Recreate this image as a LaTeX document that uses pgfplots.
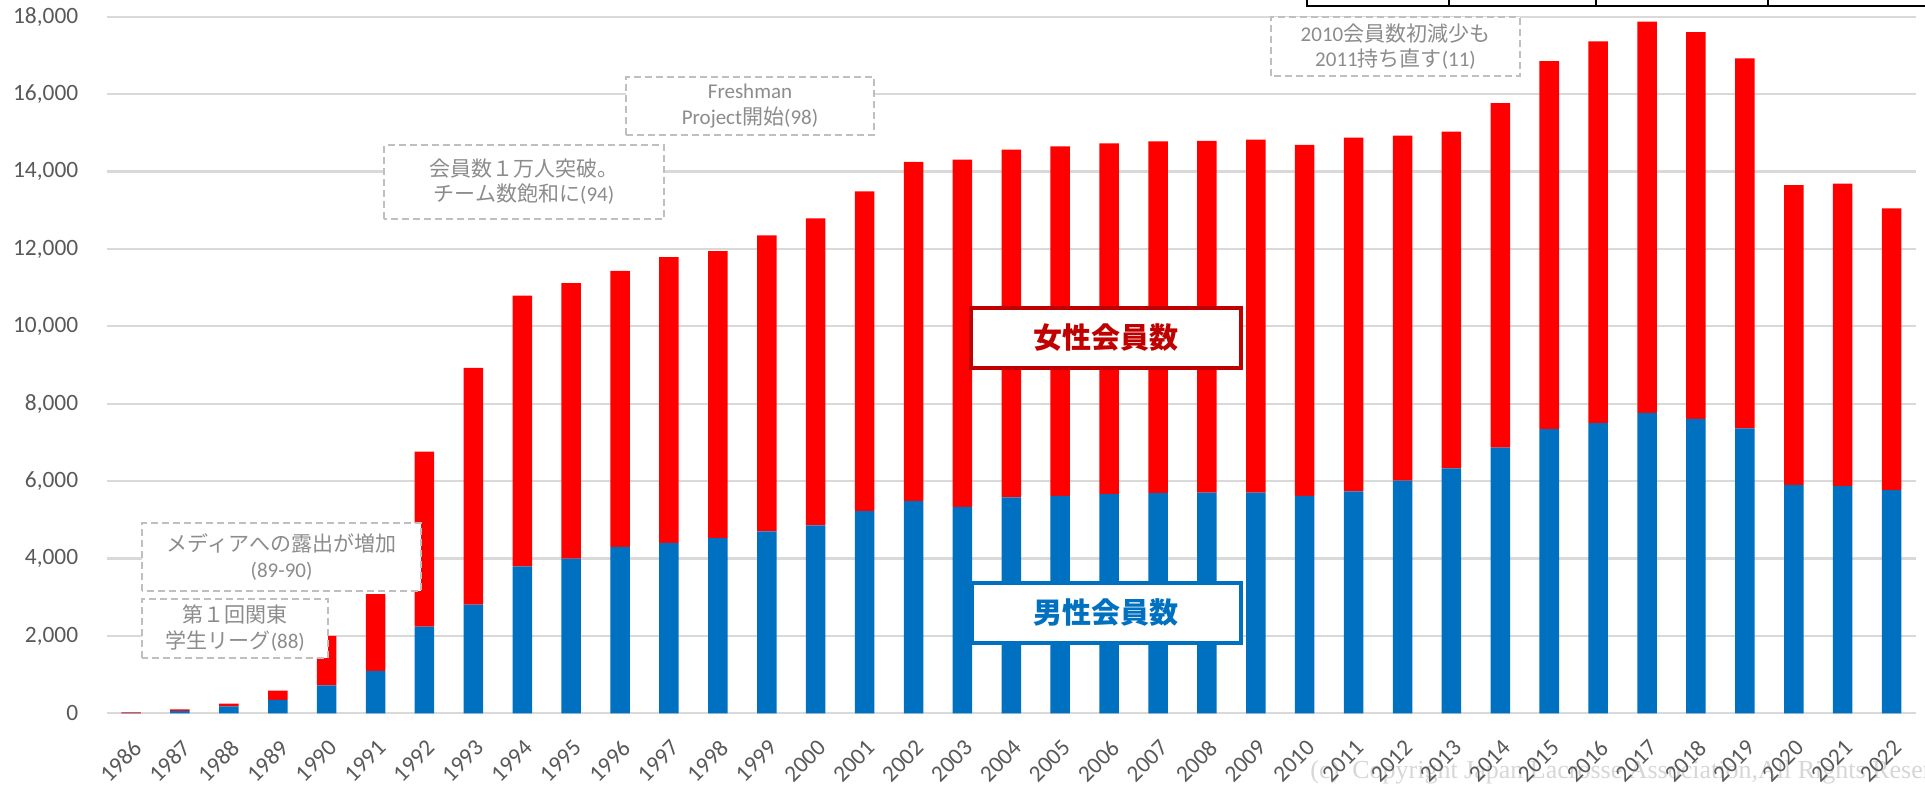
\documentclass[border=0pt]{standalone}
\usepackage{fontspec}
\setmainfont{Carlito}
\newfontfamily\jp{Noto Sans CJK JP}
\newfontfamily\cpfont{Liberation Serif}
\usepackage{pgfplots}
\usepackage{pgfplotstable}
\pgfplotsset{compat=1.18}
\definecolor{mblue}{HTML}{0070C0}
\definecolor{fred}{HTML}{FF0000}
\definecolor{dred}{HTML}{C00000}
\definecolor{gridc}{HTML}{D9D9D9}
\definecolor{tickc}{HTML}{595959}
\definecolor{annc}{HTML}{8C8C8C}
\definecolor{boxc}{HTML}{BFBFBF}

\pgfplotstableread{
year male female
1986 5 20
1987 60 45
1988 180 70
1989 345 240
1990 725 1275
1991 1095 1985
1992 2240 4525
1993 2810 6115
1994 3800 6995
1995 4000 7115
1996 4300 7135
1997 4405 7380
1998 4525 7415
1999 4700 7650
2000 4855 7935
2001 5225 8260
2002 5485 8765
2003 5335 8970
2004 5580 8985
2005 5620 9030
2006 5665 9060
2007 5690 9090
2008 5705 9085
2009 5705 9120
2010 5620 9065
2011 5735 9140
2012 6010 8915
2013 6330 8700
2014 6865 8905
2015 7345 9505
2016 7500 9865
2017 7760 10110
2018 7605 9995
2019 7365 9560
2020 5905 7740
2021 5870 7820
2022 5770 7275
}\data

\begin{document}
\begin{tikzpicture}
% copyright watermark (behind)
\node[anchor=west, inner sep=0pt, text=black!16, font=\cpfont\fontsize{13}{15}\selectfont] at (655pt,6pt) {(c)\ \ Copyright Japan Lacrosse Association,All Rights Reserved.};
\begin{axis}[
  at={(53.3pt,35.35pt)}, anchor=south west,
  scale only axis, width=904.7pt, height=348.3pt,
  xmin=1985.5, xmax=2022.5, ymin=0, ymax=18000,
  ybar stacked, bar width=9.75pt,
  axis line style={draw=none},
  major tick length=0pt,
  ymajorgrids, grid style={gridc, line width=1.1pt},
  xtick={1986,...,2022},
  xticklabel={\pgfmathprintnumber[fixed,precision=0,1000 sep={}]{\tick}},
  ytick={0,2000,...,18000},
  scaled y ticks=false,
  /pgf/number format/1000 sep={,},
  /pgf/number format/assume math mode=true,
  xticklabel style={font=\fontsize{11.7}{14}\selectfont, text=tickc, yshift=-12.5pt, xshift=0.3pt, rotate=45, anchor=north east, inner sep=0pt},
  yticklabel style={font=\fontsize{11.7}{14}\selectfont, text=tickc, anchor=east, inner sep=0pt, xshift=-14pt},
  clip=false,
]
\addplot[fill=mblue, draw=none] table[x=year, y=male]{\data};
\addplot[fill=fred, draw=none] table[x=year, y=female]{\data};
\end{axis}
% annotation boxes
\tikzset{ann/.style={boxc, line width=1pt, dash pattern=on 3.5pt off 2pt, fill=white},
         anntxt/.style={text=annc, align=center, font=\fontsize{10.5}{12.8}\selectfont, inner sep=0pt}}
\draw[ann] (71.15pt,63.15pt) rectangle (164.15pt,92.65pt);
\node[anntxt] at (117.65pt,77.9pt) {{\jp 第１回関東}\\{\jp 学生リーグ}(88)};
\draw[ann] (71.15pt,96.5pt) rectangle (210.5pt,130.65pt);
\node[anntxt] at (140.8pt,113.6pt) {{\jp メディアへの露出が増加}\\(89-90)};
\draw[ann] (192pt,282.75pt) rectangle (332pt,319.5pt);
\node[anntxt] at (262pt,301.1pt) {{\jp 会員数１万人突破。}\\{\jp チーム数飽和に}(94)};
\draw[ann] (313pt,324.5pt) rectangle (437pt,353.5pt);
\node[anntxt] at (375pt,339pt) {Freshman\\Project{\jp 開始}(98)};
\draw[ann] (635.5pt,354pt) rectangle (760pt,383.35pt);
\node[anntxt] at (697.75pt,368.7pt) {2010{\jp 会員数初減少も}\\2011{\jp 持ち直す}(11)};
% legend-like labels
\draw[dred, line width=1.8pt, fill=white] (485.5pt,208pt) rectangle (620.35pt,238pt);
\node[text=dred, font=\jp\bfseries\fontsize{14.5}{16}\selectfont] at (552.9pt,223pt) {女性会員数};
\draw[mblue, line width=1.8pt, fill=white] (485.85pt,70.5pt) rectangle (620.35pt,100.5pt);
\node[text=mblue, font=\jp\bfseries\fontsize{14.5}{16}\selectfont] at (553.1pt,85.5pt) {男性会員数};
% partial table at top
\draw[black, line width=1pt] (653.5pt,393pt) -- (653.5pt,389pt) -- (963pt,389pt);
\draw[black, line width=1pt] (724.5pt,393pt) -- (724.5pt,389pt);
\draw[black, line width=1pt] (798pt,393pt) -- (798pt,389pt);
\draw[black, line width=1pt] (884pt,393pt) -- (884pt,389pt);
\pgfresetboundingbox
\path[use as bounding box] (0pt,0pt) rectangle (962.5pt,392pt);
\end{tikzpicture}
\end{document}
